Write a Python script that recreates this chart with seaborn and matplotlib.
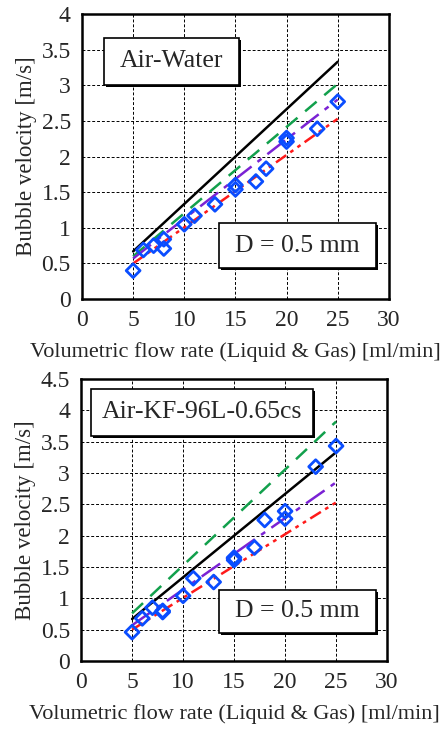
import matplotlib
matplotlib.use('Agg')
import matplotlib.pyplot as plt
from matplotlib.patches import Rectangle
import numpy as np
import pandas as pd
import seaborn as sns

sns.set_style('white')
plt.rcParams['font.family'] = ['Liberation Serif', 'DejaVu Serif']

# %% data
line_x = [5, 25]

# Air-Water (top)
water_black = [0.67, 3.33]
water_green = [0.60, 3.02]
water_purple = [0.57, 2.80]
water_red = [0.50, 2.53]
water_q = [5, 6, 7, 8, 8, 10, 11, 13, 15, 15, 17, 18, 20, 20, 23, 25]
water_v = [0.40, 0.69, 0.75, 0.84, 0.71, 1.05, 1.17, 1.33, 1.60, 1.54,
           1.65, 1.83, 2.26, 2.21, 2.39, 2.77]

# Air-KF-96L-0.65cs (bottom)
oil_black = [0.67, 3.33]
oil_green = [0.76, 3.82]
oil_purple = [0.57, 2.85]
oil_red = [0.50, 2.53]
oil_q = [5, 6, 7, 8, 8, 10, 11, 13, 15, 15, 17, 18, 20, 20, 23, 25]
oil_v = [0.46, 0.68, 0.85, 0.80, 0.78, 1.04, 1.32, 1.26, 1.61, 1.65,
         1.81, 2.25, 2.39, 2.27, 3.10, 3.43]

x_ticks = [0, 5, 10, 15, 20, 25, 30]

colors = {'black': 'black', 'green': '#12a04c', 'purple': '#7a22d4', 'red': '#ff1a1a'}
dashes = {'black': (None, None), 'green': (6, 4), 'purple': (9, 3, 2, 3),
          'red': (5, 2, 1.5, 2, 1.5, 2)}
blue = '#0a4dff'


def draw_panel(ax, lines, q, v, ymax, label, label_box, d_box):
    for name, yv in lines.items():
        sns.lineplot(x=line_x, y=yv, ax=ax, color=colors[name], lw=1.8,
                     zorder=3)
        if dashes[name][0] is not None:
            ax.lines[-1].set_dashes(dashes[name])
    sns.scatterplot(x=q, y=v, ax=ax, marker='D', s=50, facecolor='none',
                    edgecolor=blue, linewidth=2.0, zorder=4)
    ax.set_xlim(0, 30)
    ax.set_ylim(0, ymax)
    ax.set_xticks(x_ticks)
    yt = np.arange(0, ymax + 0.01, 0.5)
    ax.set_yticks(yt)
    ax.set_yticklabels([f'{t:g}' for t in yt])
    ax.grid(True, color='black', ls=(0, (3, 2)), lw=0.7)
    ax.set_axisbelow(True)
    for s in ax.spines.values():
        s.set_linewidth(1.8)
        s.set_color('black')
    ax.tick_params(axis='both', direction='in', length=10, width=1.8,
                   labelsize=17, pad=8, top=False, right=False)
    ax.set_xlabel('Volumetric flow rate (Liquid & Gas) [ml/min]', fontsize=16,
                  labelpad=8)
    ax.set_ylabel('Bubble velocity [m/s]', fontsize=16.5, labelpad=3)

    for (x0, y0, x1, y1), txt in [(label_box, label), (d_box, 'D = 0.5 mm')]:
        w, h = x1 - x0, y1 - y0
        ax.add_patch(Rectangle((x0 + 0.006, y0 - 0.008), w, h, transform=ax.transAxes,
                               facecolor='black', edgecolor='none', zorder=5))
        ax.add_patch(Rectangle((x0, y0), w, h, transform=ax.transAxes,
                               facecolor='white', edgecolor='black', lw=1.2,
                               zorder=6))
        ax.text(x0 + w / 2, y0 + h / 2, txt, transform=ax.transAxes,
                ha='center', va='center', fontsize=18.5, zorder=7)


fig = plt.figure(figsize=(4.48, 7.35), dpi=100)
ax1 = fig.add_axes([0.183, 0.593, 0.685, 0.388])
ax2 = fig.add_axes([0.181, 0.1007, 0.683, 0.3837])

draw_panel(ax1, {'black': water_black, 'green': water_green,
                 'purple': water_purple, 'red': water_red},
           water_q, water_v, 4.0, 'Air-Water',
           (0.072, 0.751, 0.511, 0.916), (0.446, 0.109, 0.958, 0.267))
draw_panel(ax2, {'black': oil_black, 'green': oil_green,
                 'purple': oil_purple, 'red': oil_red},
           oil_q, oil_v, 4.5, 'Air-KF-96L-0.65cs',
           (0.033, 0.798, 0.758, 0.965), (0.451, 0.099, 0.964, 0.252))

fig.savefig('out.png', dpi=100)
